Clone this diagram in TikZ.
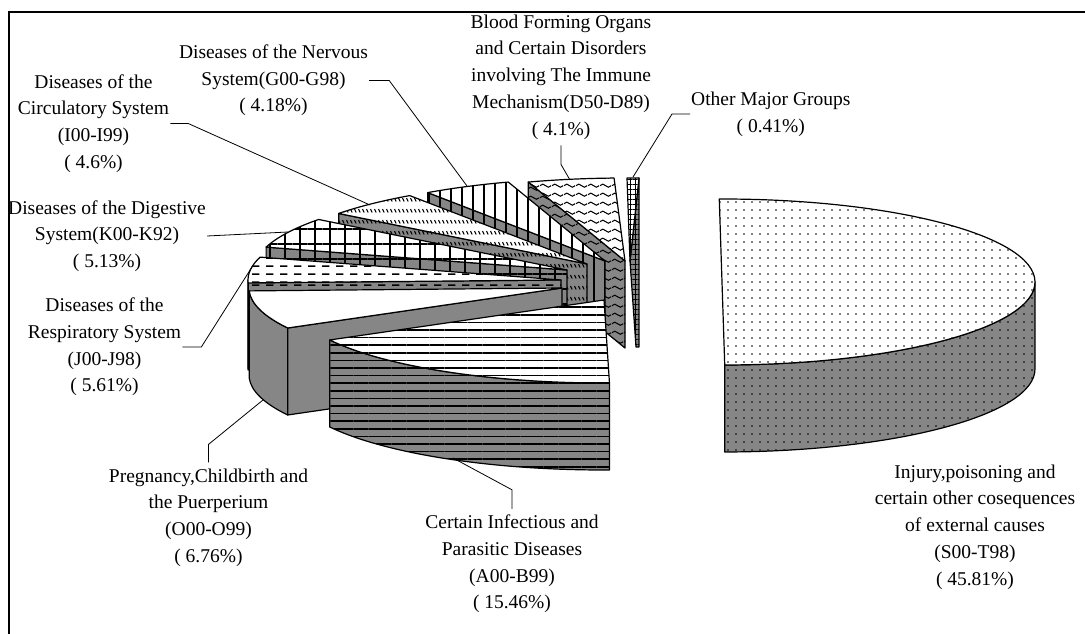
\documentclass[tikz,border=0pt]{standalone}
\usepackage{fontspec}
\setmainfont{Liberation Serif}
\usetikzlibrary{patterns.meta}
\definecolor{sidegray}{RGB}{134,134,134}

\pgfdeclarepattern{
  name=hdashpat, type=uncolored,
  bottom left={\pgfpoint{0pt}{0pt}},
  top right={\pgfpoint{14pt}{8.3pt}},
  tile size={\pgfpoint{14pt}{8.3pt}},
  code={
    \pgfsetlinewidth{1.7pt}\pgfsetbuttcap
    \pgfpathmoveto{\pgfpoint{0pt}{4.15pt}}
    \pgfpathlineto{\pgfpoint{8pt}{4.15pt}}
    \pgfusepath{stroke}
  }
}
\pgfdeclarepattern{
  name=diagdashpat, type=uncolored,
  bottom left={\pgfpoint{0pt}{0pt}},
  top right={\pgfpoint{4.4pt}{11pt}},
  tile size={\pgfpoint{4.4pt}{11pt}},
  code={
    \pgfsetlinewidth{1.2pt}\pgfsetbuttcap
    \pgfpathmoveto{\pgfpoint{0.6pt}{7.5pt}}
    \pgfpathlineto{\pgfpoint{2.4pt}{3.8pt}}
    \pgfusepath{stroke}
  }
}
\pgfdeclarepattern{
  name=wavypat, type=uncolored,
  bottom left={\pgfpoint{0pt}{0pt}},
  top right={\pgfpoint{12pt}{9.3pt}},
  tile size={\pgfpoint{12pt}{9.3pt}},
  code={
    \pgfsetlinewidth{1.1pt}
    \pgfpathmoveto{\pgfpoint{0pt}{4.6pt}}
    \pgfpathcurveto{\pgfpoint{2pt}{6.8pt}}{\pgfpoint{4pt}{6.8pt}}{\pgfpoint{6pt}{4.6pt}}
    \pgfpathcurveto{\pgfpoint{8pt}{2.4pt}}{\pgfpoint{10pt}{2.4pt}}{\pgfpoint{12pt}{4.6pt}}
    \pgfusepath{stroke}
  }
}

\tikzset{
  face/.style={draw=black, line width=1.2pt, line join=round},
  topface/.style={face, preaction={fill=white}},
  sideface/.style={face, preaction={fill=sidegray}},
  pat/.style={pattern={#1}, pattern color=black},
  lbl/.style={align=center, font=\fontsize{19.5}{26.7}\selectfont, inner xsep=1pt, inner ysep=6pt},
  lead/.style={draw=black, line width=0.8pt},
  frameline/.style={draw=black, line width=2.2pt},
}

\newcommand\slicetop[4]{%
  \draw[topface,#4] (#1) -- ([shift={(#2:313pt and 83pt)}]#1)
    arc[start angle=#2,end angle=#3,x radius=313pt,y radius=83pt] -- cycle;}
\newcommand\slicecut[3]{%
  \draw[sideface,#3] (#1) -- ([shift={(#2:313pt and 83pt)}]#1) -- ++(0,-87)
    -- ([yshift=-87pt]#1) -- cycle;}
\newcommand\sliceside[4]{%
  \draw[sideface,#4] ([shift={(#2:313pt and 83pt)}]#1)
    arc[start angle=#2,end angle=#3,x radius=313pt,y radius=83pt] -- ++(0,-87)
    arc[start angle=#3,end angle=#2,x radius=313pt,y radius=83pt] -- cycle;}

\begin{document}
\begin{tikzpicture}[x=1pt,y=1pt]
\useasboundingbox (0,0) rectangle (1085,-634);
\draw[frameline] (9,-640) -- (9,-12) -- (1090,-12);

% apexes
\coordinate (aBlood) at (625,-261);
\coordinate (aNerv) at (605,-261);
\coordinate (aCirc) at (587,-264);
\coordinate (aDig) at (567,-270);
\coordinate (aResp) at (561,-280);
\coordinate (aPreg) at (562,-288);
\coordinate (aInf) at (604,-300);
\coordinate (aInj) at (722,-282);

% Other Major Groups (thin slice)
\draw[sideface,pat={Hatch[angle=0,distance=5pt,line width=0.8pt]}]
  (630,-261) -- (639,-178) -- (639,-347) -- (636,-347) -- cycle;
\draw[topface,pat={Hatch[angle=0,distance=5pt,line width=0.8pt]}]
  (627,-178) -- (639,-178) -- (630,-261) -- cycle;

% Blood forming organs
\slicecut{aBlood}{108}{pat=wavypat}
\slicetop{aBlood}{92}{108}{pat=wavypat}

% Nervous system
\slicecut{aNerv}{124.5}{pat={Lines[angle=90,distance=11pt,line width=1.6pt]}}
\slicetop{aNerv}{108}{124.5}{pat={Lines[angle=90,distance=11pt,line width=1.6pt]}}

% Circulatory system
\slicecut{aCirc}{142.5}{pat=diagdashpat}
\slicetop{aCirc}{124.5}{142.5}{pat=diagdashpat}

% Digestive system
\slicecut{aDig}{164}{pat={Hatch[angle=0,distance=15pt,line width=1.5pt]}}
\slicetop{aDig}{142.5}{164}{pat={Hatch[angle=0,distance=15pt,line width=1.5pt]}}

% Respiratory system
\sliceside{aResp}{180}{182}{pat=hdashpat}
\slicecut{aResp}{182}{pat=hdashpat}
\slicetop{aResp}{164}{182}{pat=hdashpat}

% Pregnancy
\sliceside{aPreg}{182}{208.8}{}
\slicecut{aPreg}{208.8}{}
\slicetop{aPreg}{182}{208.8}{}

% Infectious
\sliceside{aInf}{208.8}{271}{pat={Lines[angle=0,distance=7.6pt,line width=1.6pt]}}
\slicetop{aInf}{208.8}{271}{pat={Lines[angle=0,distance=7.6pt,line width=1.6pt]}}

% Injury
\sliceside{aInj}{-89.5}{0}{pat={Dots[distance=8pt,radius=0.8pt]}}
\slicetop{aInj}{-89.5}{90.5}{pat={Dots[distance=8pt,radius=0.8pt]}}

% labels
\node[lbl] (lNerv) at (273.5,-80.5) {Diseases of the Nervous\\System(G00-G98)\\( 4.18\%)};
\node[lbl] (lBlood) at (561,-77) {Blood Forming Organs\\and Certain Disorders\\involving The Immune\\Mechanism(D50-D89)\\( 4.1\%)};
\node[lbl,anchor=west] (lOther) at (690,-114) {Other Major Groups\\( 0.41\%)};
\node[lbl] (lCirc) at (93.5,-123.5) {Diseases of the\\Circulatory System\\(I00-I99)\\( 4.6\%)};
\node[lbl] (lDig) at (107,-236) {Diseases of the Digestive\\System(K00-K92)\\( 5.13\%)};
\node[lbl] (lResp) at (104.5,-347) {Diseases of the\\Respiratory System\\(J00-J98)\\( 5.61\%)};
\node[lbl] (lPreg) at (208.5,-517.5) {Pregnancy,Childbirth and\\the Puerperium\\(O00-O99)\\( 6.76\%)};
\node[lbl] (lInf) at (512,-564) {Certain Infectious and\\Parasitic Diseases\\(A00-B99)\\( 15.46\%)};
\node[lbl] (lInj) at (975,-527) {Injury,poisoning and\\certain other cosequences\\of external causes\\(S00-T98)\\( 45.81\%)};

% leader end points
\coordinate (eNerv) at (467,-186);
\coordinate (eBlood) at (570,-180);
\coordinate (eOther) at (633,-177);
\coordinate (eCirc) at (370,-205);
\coordinate (eDig) at (288,-232);
\coordinate (eResp) at (252,-267);
\coordinate (ePreg) at (263,-400);
\coordinate (eInf) at (453,-458);

\draw[lead] (lNerv.east) -- ++(20,0) -- (eNerv);
\draw[lead] (lBlood.south) -- ++(0,-19) -- (eBlood);
\draw[lead] (lOther.west) -- ++(-18,0) -- (eOther);
\draw[lead] (lCirc.east) -- ++(18,0) -- (eCirc);
\draw[lead] (lDig.east) -- (eDig);
\draw[lead] (lResp.east) -- ++(19,0) -- (eResp);
\draw[lead] (lPreg.north) -- ++(0,18) -- (ePreg);
\draw[lead] (lInf.north) -- ++(0,19) -- (eInf);
\end{tikzpicture}
\end{document}
